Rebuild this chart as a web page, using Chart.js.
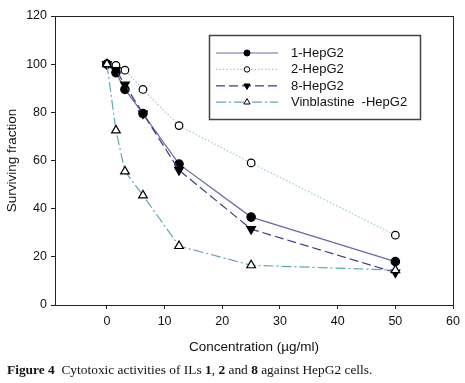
<!DOCTYPE html>
<html>
<head>
<meta charset="utf-8">
<script src="https://cdn.jsdelivr.net/npm/chart.js@4"></script>
<style>
  html, body { margin: 0; padding: 0; background: #fff; }
  #wrap { position: relative; width: 465px; height: 383px; }
  #caption {
    position: absolute; left: 7px; top: 362px;
    font-family: "Liberation Serif", "DejaVu Serif", serif;
    font-size: 13.4px; color: #111; white-space: nowrap;
  }
</style>
</head>
<body>
<div id="wrap">
  <canvas id="mycanvas" width="465" height="383"></canvas>
  <div id="caption"><b>Figure 4</b>&nbsp; Cytotoxic activities of ILs <b>1</b>, <b>2</b> and <b>8</b> against HepG2 cells.</div>
</div>
<script>
// concentrations (µg/ml)
const concentrations = [0, 1.5625, 3.125, 6.25, 12.5, 25, 50];

// surviving fraction per compound
const hep1 = [100, 96.5, 89.5, 79.5, 58.5, 36.5, 18];
const hep2 = [100, 99.5, 97.5, 89.5, 74.5, 59, 29];
const hep8 = [100, 97.5, 91.5, 79.5, 56, 31.5, 13.5];
const vinblastine = [100, 72.5, 55.5, 45.5, 24.5, 16.5, 14.5];

const seriesNames = ['1-HepG2', '2-HepG2', '8-HepG2', 'Vinblastine  -HepG2'];

const xTicks = [0, 10, 20, 30, 40, 50, 60];
const yTicks = [0, 20, 40, 60, 80, 100, 120];

function toPoints(values) {
    return concentrations.map((c, i) => ({ x: c, y: values[i] }));
}

const font = 'Liberation Sans, Arial, sans-serif';

// frame round the plot area (top and right sides)
const framePlugin = {
    id: 'frame',
    beforeDatasetsDraw(chart) {
        const a = chart.chartArea;
        const ctx = chart.ctx;
        ctx.save();
        ctx.strokeStyle = '#222';
        ctx.lineWidth = 1;
        ctx.strokeRect(Math.round(a.left) + 0.5, Math.round(a.top) + 0.5,
            Math.round(a.right - a.left), Math.round(a.bottom - a.top));
        ctx.restore();
    }
};

// boxed legend with line samples, like the original figure
const boxLegend = {
    id: 'boxLegend',
    afterDatasetsDraw(chart) {
        const a = chart.chartArea;
        const ctx = chart.ctx;
        const bx = a.left + 154, by = a.top + 19, bw = 211, bh = 84;
        ctx.save();
        ctx.fillStyle = '#fff';
        ctx.fillRect(bx, by, bw, bh);
        ctx.strokeStyle = '#444';
        ctx.lineWidth = 1.5;
        ctx.strokeRect(bx + 0.5, by + 0.5, bw, bh);

        chart.data.datasets.forEach((ds, i) => {
            const y = by + 18 + i * 16.4;
            ctx.save();
            ctx.strokeStyle = ds.borderColor;
            ctx.lineWidth = ds.borderWidth;
            ctx.setLineDash(ds.borderDash || []);
            ctx.beginPath();
            ctx.moveTo(bx + 7, y);
            ctx.lineTo(bx + 69, y);
            ctx.stroke();
            ctx.restore();

            ctx.save();
            ctx.fillStyle = ds.pointBackgroundColor;
            ctx.strokeStyle = ds.pointBorderColor;
            ctx.lineWidth = 1;
            ctx.setLineDash([]);
            Chart.helpers.drawPoint(ctx, {
                pointStyle: ds.pointStyle,
                rotation: ds.pointRotation || 0,
                radius: ds.pointRadius * 0.72,
                borderWidth: 1
            }, bx + 38, y);
            ctx.restore();

            ctx.fillStyle = '#111';
            ctx.font = '13px ' + font;
            ctx.textBaseline = 'middle';
            ctx.fillText(ds.label, bx + 82, y + 0.5);
        });
        ctx.restore();
    }
};

const ctx = document.getElementById('mycanvas');
const chart = new Chart(ctx, {
    type: 'line',
    data: {
        datasets: [{
            label: seriesNames[0],
            data: toPoints(hep1),
            borderColor: '#6a68a8',
            borderWidth: 1.2,
            pointStyle: 'circle',
            pointRadius: 4.2,
            pointBackgroundColor: '#000',
            pointBorderColor: '#000',
            order: 3
        }, {
            label: seriesNames[1],
            data: toPoints(hep2),
            borderColor: '#9ccbe0',
            borderWidth: 1.2,
            borderDash: [1.5, 2],
            pointStyle: 'circle',
            pointRadius: 3.8,
            pointBackgroundColor: '#fff',
            pointBorderColor: '#000',
            order: 2
        }, {
            label: seriesNames[2],
            data: toPoints(hep8),
            borderColor: '#3a3a86',
            borderWidth: 1.2,
            borderDash: [9, 4],
            pointStyle: 'triangle',
            pointRotation: 180,
            pointRadius: 5,
            pointBackgroundColor: '#000',
            pointBorderColor: '#000',
            order: 1
        }, {
            label: seriesNames[3],
            data: toPoints(vinblastine),
            borderColor: '#5aa9b5',
            borderWidth: 1.2,
            borderDash: [10, 3, 2, 3],
            pointStyle: 'triangle',
            pointRadius: 5,
            pointBackgroundColor: '#fff',
            pointBorderColor: '#000',
            order: 0
        }]
    },
    options: {
        responsive: false,
        animation: false,
        layout: { padding: { top: 16, right: 8, bottom: 23, left: 0 } },
        elements: { line: { tension: 0 }, point: { borderWidth: 1 } },
        plugins: {
            legend: { display: false },
            tooltip: { enabled: false }
        },
        scales: {
            x: {
                type: 'linear',
                min: -9,
                max: 60,
                afterBuildTicks: axis => { axis.ticks = xTicks.map(v => ({ value: v })); },
                afterFit: axis => { axis.height = 55; },
                ticks: { color: '#111', padding: 5, font: { family: font, size: 12.5 } },
                grid: { drawOnChartArea: false, drawTicks: true, tickLength: 4, color: '#222' },
                border: { color: '#222', width: 1 },
                title: {
                    display: true,
                    text: 'Concentration (µg/ml)',
                    color: '#111',
                    font: { family: font, size: 13.5 },
                    padding: { top: 4, bottom: 5 }
                }
            },
            y: {
                min: 0,
                max: 120,
                afterBuildTicks: axis => { axis.ticks = yTicks.map(v => ({ value: v })); },
                afterFit: axis => { axis.width = 55; },
                ticks: { color: '#111', padding: 4, font: { family: font, size: 12.5 } },
                grid: { drawOnChartArea: false, drawTicks: true, tickLength: 4, color: '#222' },
                border: { color: '#222', width: 1 },
                title: {
                    display: true,
                    text: 'Surviving fraction',
                    color: '#111',
                    font: { family: font, size: 13.5 },
                    padding: { top: 4, bottom: 4 }
                }
            }
        }
    },
    plugins: [framePlugin, boxLegend]
});
</script>
</body>
</html>
